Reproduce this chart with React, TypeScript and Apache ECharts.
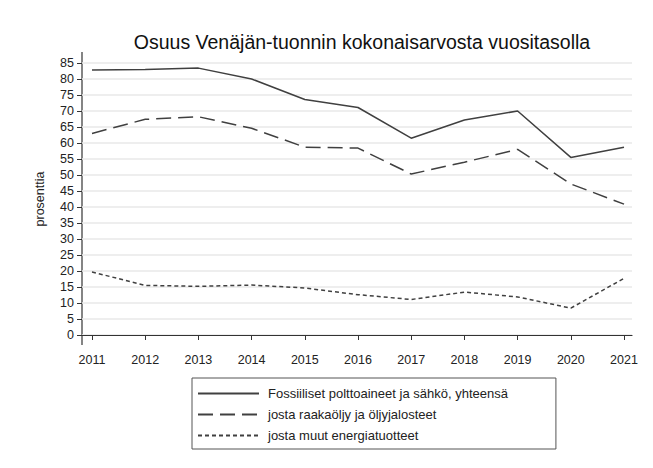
import React, { useEffect, useRef } from "react";
import * as echarts from "echarts";

const years = [2011, 2012, 2013, 2014, 2015, 2016, 2017, 2018, 2019, 2020, 2021];
const fossilTotal = [82.8, 83.0, 83.4, 80.0, 73.6, 71.1, 61.5, 67.2, 70.0, 55.5, 58.7];
const crudeOil = [63.0, 67.4, 68.2, 64.6, 58.7, 58.4, 50.3, 54.0, 58.0, 47.2, 40.9];
const otherEnergy = [19.7, 15.5, 15.2, 15.6, 14.7, 12.6, 11.1, 13.4, 11.9, 8.4, 17.7];
const yTicks = [0, 5, 10, 15, 20, 25, 30, 35, 40, 45, 50, 55, 60, 65, 70, 75, 80, 85];

const seriesNames = [
  "Fossiiliset polttoaineet ja sähkö, yhteensä",
  "josta raakaöljy ja öljyjalosteet",
  "josta muut energiatuotteet",
];

const FONT = "'Liberation Sans', Arial, sans-serif";
const LINE = "#404040";

export default function App() {
  const ref = useRef<HTMLDivElement>(null);
  useEffect(() => {
    document.body.style.margin = "0";
    if (!ref.current) return;
    const chart = echarts.init(ref.current, undefined, { renderer: "svg" });
    const pairs = (vals: number[]) => years.map((y, i) => [y, vals[i]]);
    chart.setOption({
      animation: false,
      backgroundColor: "#ffffff",
      textStyle: { fontFamily: FONT },
      title: {
        text: "Osuus Venäjän-tuonnin kokonaisarvosta vuositasolla",
        left: 357,
        textAlign: "center",
        top: 27,
        textStyle: { fontFamily: FONT, fontSize: 19.5, fontWeight: "normal", color: "#111" },
      },
      grid: { left: 82, right: 21, top: 63, bottom: 133 },
      xAxis: {
        type: "value",
        min: 2010.812,
        max: 2021.15,
        offset: 10,
        axisLine: { show: true, lineStyle: { color: "#333", width: 1.2 } },
        axisTick: { show: true, length: 5, customValues: years, lineStyle: { color: "#333" } },
        axisLabel: {
          customValues: years,
          formatter: (v: number) => String(v),
          color: "#222",
          fontSize: 12.5,
          fontFamily: FONT,
          margin: 8,
        },
        splitLine: { show: false },
      },
      yAxis: {
        type: "value",
        min: 0,
        max: 85,
        interval: 5,
        name: "prosenttia",
        nameLocation: "middle",
        nameGap: 36,
        nameTextStyle: { fontFamily: FONT, fontSize: 12.5, color: "#222" },
        axisLine: { show: false },
        axisTick: { show: true, length: 5, lineStyle: { color: "#333" } },
        axisLabel: {
          color: "#222",
          fontSize: 12.5,
          fontFamily: FONT,
          margin: 8,
          customValues: yTicks,
        },
        splitLine: { show: true, lineStyle: { color: "#e9e9e9", width: 1.5 } },
      },
      legend: {
        orient: "vertical",
        left: 192,
        top: 378,
        itemWidth: 61,
        itemHeight: 14,
        itemGap: 8,
        padding: [9, 48, 7, 5],
        borderColor: "#555",
        borderWidth: 1,
        itemStyle: { color: "rgba(0,0,0,0)", borderColor: "rgba(0,0,0,0)", borderWidth: 0 },
        textStyle: { fontFamily: FONT, fontSize: 13, color: "#222", padding: [0, 0, 0, 4] },
        data: seriesNames,
      },
      graphic: [
        {
          type: "line",
          shape: { x1: 82, y1: 52, x2: 82, y2: 345 },
          style: { stroke: "#333", lineWidth: 1.2 },
          silent: true,
        },
      ],
      series: [
        {
          name: seriesNames[0],
          type: "line",
          data: pairs(fossilTotal),
          symbol: "none",
          lineStyle: { color: LINE, width: 1.5, type: "solid" },
          itemStyle: { color: LINE },
        },
        {
          name: seriesNames[1],
          type: "line",
          data: pairs(crudeOil),
          symbol: "none",
          lineStyle: { color: LINE, width: 1.5, type: [15, 7] },
          itemStyle: { color: LINE },
        },
        {
          name: seriesNames[2],
          type: "line",
          data: pairs(otherEnergy),
          symbol: "none",
          lineStyle: { color: LINE, width: 1.5, type: [4, 3] },
          itemStyle: { color: LINE },
        },
      ],
    });
    return () => chart.dispose();
  }, []);
  return <div ref={ref} style={{ width: 653, height: 468 }} />;
}
